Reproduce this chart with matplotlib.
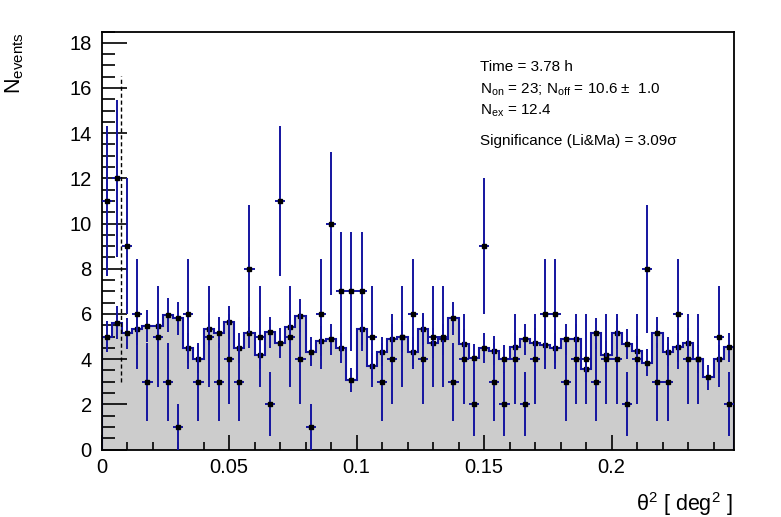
import numpy as np
import matplotlib.pyplot as plt

plt.rcParams['font.family'] = ['Liberation Sans', 'DejaVu Sans']
plt.rcParams['mathtext.fontset'] = 'custom'
plt.rcParams['mathtext.rm'] = 'Liberation Sans'
plt.rcParams['mathtext.it'] = 'Liberation Sans:italic'

# theta^2 histogram, bins of 0.004 deg^2
bin_width = 0.004
theta2_cut = 0.0077

# ON counts per bin (0 = empty bin, not drawn)
n_on = [11, 12, 9, 6, 3, 5, 3, 1, 6, 3, 5, 3, 4, 3, 8, 5,
        2, 11, 5, 4, 1, 6, 10, 7, 7, 7, 5, 3, 4, 5, 6, 4,
        5, 5, 3, 4, 2, 9, 3, 2, 4, 2, 4, 6, 6, 3, 4,
        4, 3, 4, 4, 2, 4, 8, 3, 3, 6, 4, 4, 0, 5, 2]

# normalised OFF counts per bin
n_off = [5.0, 5.62, 5.14, 5.32, 5.47, 5.47, 5.95, 5.81, 4.5, 4.0, 5.32, 5.17, 5.63, 4.5, 5.17, 4.2,
         5.18, 4.7, 5.42, 5.93, 4.33, 4.81, 4.88, 4.5, 3.07, 5.32, 3.7, 4.33, 4.88, 5.0, 4.33, 5.32,
         4.7, 4.88, 5.81, 4.65, 4.05, 4.5, 4.37, 4.0, 4.52, 4.88, 4.7, 4.63, 4.5, 4.88, 4.88,
         3.56, 5.14, 4.18, 5.14, 4.65, 4.37, 3.84, 5.17, 4.33, 4.52, 4.7, 4.0, 3.19, 4.0, 4.52]
off_norm = 0.094  # on/off exposure ratio

info_lines = ['Time = 3.78 h',
              r'N$_{\rm on}$ = 23; N$_{\rm off}$ = 10.6 $\pm$  1.0',
              r'N$_{\rm ex}$ = 12.4',
              'Significance (Li&Ma) = 3.09σ']

on = np.array(n_on, dtype=float)
off = np.array(n_off)
edges = np.arange(len(on) + 1) * bin_width
centers = edges[:-1] + bin_width / 2

blue = '#1414a0'

fig = plt.figure(figsize=(7.81, 5.17), dpi=100)
ax = fig.add_axes([101.5 / 781, (517 - 449.5) / 517, 632.5 / 781, 418 / 517])

# background histogram
ax.stairs(off, edges, fill=True, color='#cccccc', zorder=1)
ax.stairs(off, edges, color=blue, lw=1.5, zorder=2)
ax.errorbar(centers, off, yerr=np.sqrt(off * off_norm), fmt='s', ms=3.2,
            mfc='black', mec='black', ecolor=blue, elinewidth=1.4, capsize=0, zorder=3)

# ON data
m = on > 0
ax.errorbar(centers[m], on[m], yerr=np.sqrt(on[m]), xerr=bin_width / 2, fmt='s', ms=3.2,
            mfc='black', mec='black', ecolor=blue, elinewidth=1.4, capsize=0, zorder=4)

# theta^2 cut
ax.plot([theta2_cut, theta2_cut], [3.0, 16.55], color='black', lw=1, ls=(0, (3, 2)), zorder=5)

ax.set_xlim(0, len(on) * bin_width)
ax.set_ylim(0, 18.5)
ax.set_xticks([0, 0.05, 0.1, 0.15, 0.2])
ax.set_xticklabels(['0', '0.05', '0.1', '0.15', '0.2'])
ax.set_xticks(np.arange(0, 0.245, 0.01), minor=True)
ax.set_yticks(np.arange(0, 19, 2))
ax.set_yticks(np.arange(0, 18.6, 0.5), minor=True)
ax.tick_params(axis='both', which='both', direction='in', top=False, right=False, labelsize=14.5)
ax.tick_params(axis='y', which='major', length=18, width=1.2, pad=7)
ax.tick_params(axis='y', which='minor', length=9, width=1.2)
ax.tick_params(axis='x', which='major', length=11, width=1.2, pad=6)
ax.tick_params(axis='x', which='minor', length=5.5, width=1.2)
for s in ax.spines.values():
    s.set_linewidth(1.3)

ys = [0.9055, 0.852, 0.802, 0.7285]
for y, t in zip(ys, info_lines):
    ax.text(0.598, y, t, transform=ax.transAxes, fontsize=11, va='baseline', ha='left')

fig.text(15 / 781, 1 - 32 / 517, r'N$_{\rm events}$', rotation=90, ha='center', va='top', fontsize=15.5)
fig.text(733 / 781, 1 - 511 / 517, r'θ$^2$ [ deg$^2$ ]', ha='right', va='baseline', fontsize=15.5)

fig.savefig('out.png', dpi=100)
